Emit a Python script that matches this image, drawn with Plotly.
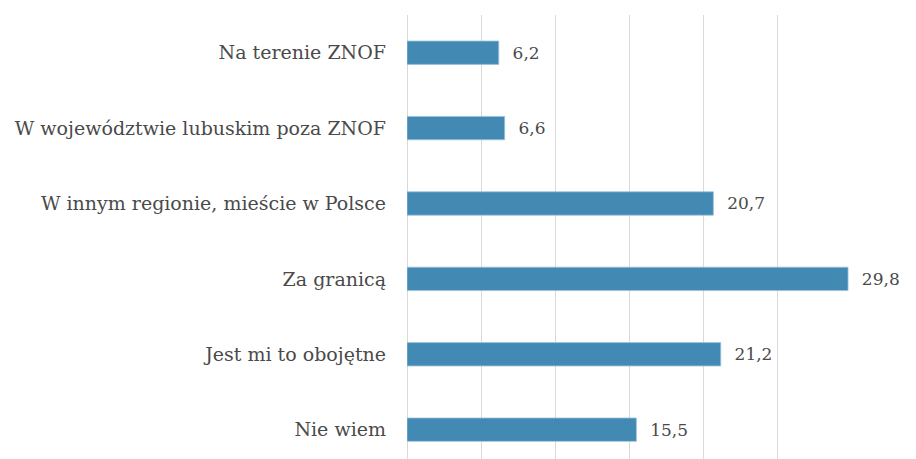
import plotly.graph_objects as go

categories = [
    "Na terenie ZNOF",
    "W województwie lubuskim poza ZNOF",
    "W innym regionie, mieście w Polsce",
    "Za granicą",
    "Jest mi to obojętne",
    "Nie wiem",
]
values = [6.2, 6.6, 20.7, 29.8, 21.2, 15.5]

FONT = "DejaVu Serif"
TXT = "#4A4A4A"

fig = go.Figure()
fig.add_trace(go.Bar(
    x=values,
    y=categories,
    orientation="h",
    width=0.31,
    marker=dict(color="#428AB3", line=dict(color="#9CC3DD", width=0.8)),
    text=[("\u00a0\u00a0" + f"{v:.1f}".replace(".", ",")) for v in values],
    textposition="outside",
    cliponaxis=False,
    textfont=dict(family=FONT, size=17, color=TXT),
    hoverinfo="skip",
))

fig.update_layout(
    width=908,
    height=451,
    margin=dict(l=398.5, r=65, t=7, b=0, autoexpand=False),
    paper_bgcolor="white",
    plot_bgcolor="white",
    showlegend=False,
    separators=", ",
    font=dict(family=FONT, size=19, color=TXT),
    xaxis=dict(
        range=[0, 30],
        dtick=5,
        showticklabels=False,
        showgrid=True,
        gridcolor="#D9D9D9",
        gridwidth=1.3,
        zeroline=True,
        zerolinecolor="#D9D9D9",
        zerolinewidth=1.3,
        showline=False,
        automargin=False,
        fixedrange=True,
    ),
    yaxis=dict(
        type="category",
        categoryorder="array",
        categoryarray=categories,
        range=[5.389, -0.5],
        showgrid=False,
        zeroline=False,
        showline=False,
        ticks="",
        ticklabelstandoff=20,
        automargin=False,
        tickfont=dict(family=FONT, size=19, color=TXT),
        fixedrange=True,
    ),
)

fig.write_html("out.html")
